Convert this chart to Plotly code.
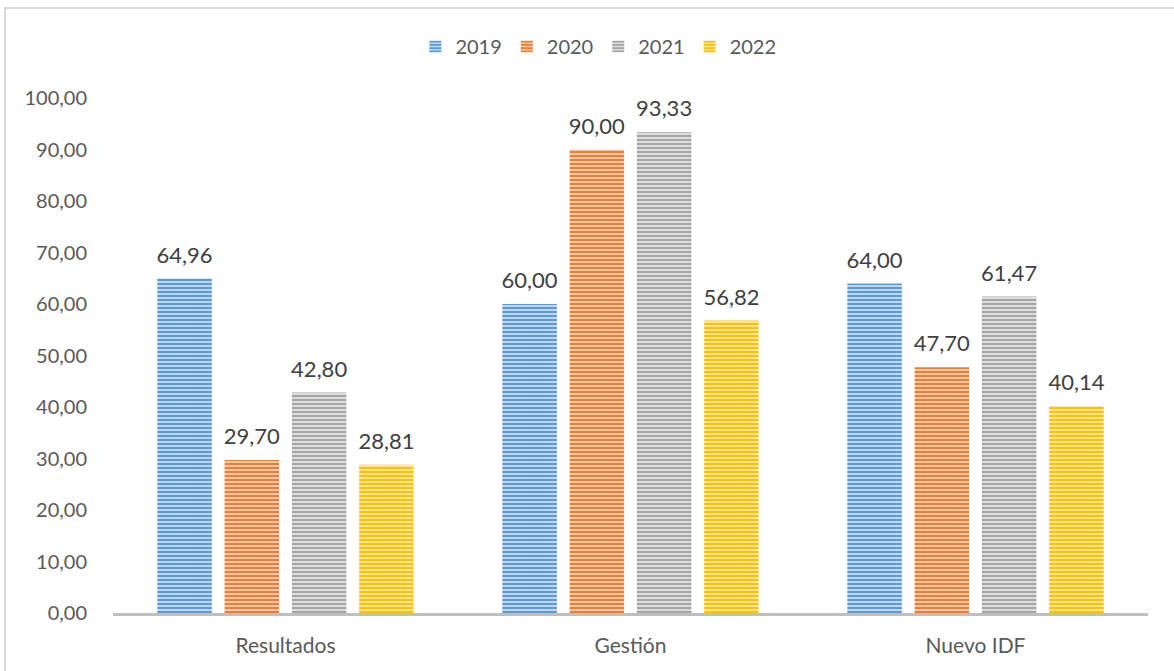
import plotly.graph_objects as go

# Datos
categorias = ["Resultados", "Gestión", "Nuevo IDF"]
anios = ["2019", "2020", "2021", "2022"]
valores_2019 = [64.96, 60.00, 64.00]
valores_2020 = [29.70, 90.00, 47.70]
valores_2021 = [42.80, 93.33, 61.47]
valores_2022 = [28.81, 56.82, 40.14]
series = [valores_2019, valores_2020, valores_2021, valores_2022]

colores = ["#5b9bd5", "#ed7d31", "#a5a5a5", "#ffc000"]
fondos = ["#c9def2", "#f9d2b8", "#e2e2e2", "#ffeaa6"]

fuente = "Lato"

fig = go.Figure()
for anio, vals, col, bg in zip(anios, series, colores, fondos):
    fig.add_trace(go.Bar(
        x=categorias,
        y=vals,
        name=anio,
        offsetgroup=anio,
        marker=dict(
            color=col,
            line=dict(width=0),
            pattern=dict(shape="-", fillmode="replace", fgcolor=col,
                         bgcolor=bg, size=4, solidity=0.55),
        ),
        hoverinfo="skip",
    ))

# etiquetas de datos, agrupadas igual que las barras
for anio, vals in zip(anios, series):
    fig.add_trace(go.Scatter(
        x=categorias,
        y=vals,
        mode="markers+text",
        text=[f"{v:.2f}".replace(".", ",") for v in vals],
        textposition="top center",
        textfont=dict(family=fuente, size=22, color="#404040"),
        marker=dict(size=15, opacity=0),
        offsetgroup=anio,
        showlegend=False,
        hoverinfo="skip",
        cliponaxis=False,
    ))

fig.update_layout(
    width=1174, height=671,
    margin=dict(l=113, r=26, t=98, b=58),
    paper_bgcolor="white",
    plot_bgcolor="white",
    separators=", ",
    barmode="group",
    scattermode="group",
    bargap=0.22,
    bargroupgap=0.19,
    scattergap=0.22,
    font=dict(family=fuente, size=20, color="#595959"),
    legend=dict(orientation="h", x=0.469, xanchor="center", y=1.10, yanchor="middle",
                font=dict(family=fuente, size=20, color="#595959"),
                itemwidth=30, tracegroupgap=0),
    showlegend=True,
    xaxis=dict(showline=True, linecolor="#bfbfbf", linewidth=3, showgrid=False,
               ticks="", ticklabelstandoff=12, zeroline=False,
               tickfont=dict(family=fuente, size=21, color="#595959")),
    yaxis=dict(range=[0, 100], dtick=10, tickformat=".2f", showgrid=False,
               zeroline=False, showline=False, ticklabelstandoff=25,
               tickfont=dict(family=fuente, size=20, color="#595959")),
    shapes=[dict(type="rect", xref="paper", yref="paper",
                 x0=(5 - 113) / 1035, x1=1.2, y0=-0.3, y1=(613 - 8) / 515,
                 line=dict(color="#d9d9d9", width=2), fillcolor="rgba(0,0,0,0)",
                 layer="below")],
)

# quitar el margen del body para que el grafico empiece en (0, 0)
fig.write_html("out.html", config={"displayModeBar": False},
               post_script="document.body.style.margin='0';")
